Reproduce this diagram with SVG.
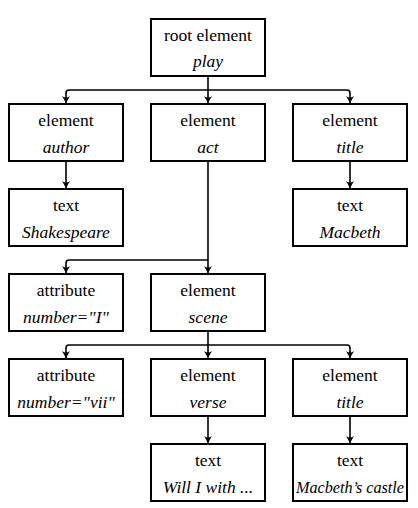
<svg xmlns="http://www.w3.org/2000/svg" width="418" height="508" viewBox="0 0 418 508">
<style>
.box{fill:#fff;stroke:#000;stroke-width:2}
.t{font-family:"Liberation Serif","DejaVu Serif",serif;font-size:17.5px;text-anchor:middle;fill:#000}
.i{font-style:italic}
.c{fill:none;stroke:#000;stroke-width:1.6;stroke-linejoin:round}
</style>
<defs>
<marker id="ah" markerWidth="10" markerHeight="10" refX="7" refY="4" orient="auto" markerUnits="userSpaceOnUse">
<path d="M0,0 Q3,4 0,8 L7,4 Z" fill="#000"/>
</marker>
</defs>
<g id="connectors">
<path class="c" d="M208,77 V90"/>
<path class="c" d="M208,90 H69 Q66,90 66,93 V103" marker-end="url(#ah)"/>
<path class="c" d="M208,90 V103" marker-end="url(#ah)"/>
<path class="c" d="M208,90 H347 Q350,90 350,93 V103" marker-end="url(#ah)"/>
<path class="c" d="M66,162 V188" marker-end="url(#ah)"/>
<path class="c" d="M350,162 V188" marker-end="url(#ah)"/>
<path class="c" d="M208,162 V260 M208,260 H69 Q66,260 66,263 V273" marker-end="url(#ah)"/>
<path class="c" d="M208,260 V273" marker-end="url(#ah)"/>
<path class="c" d="M208,332 V345"/>
<path class="c" d="M208,345 H69 Q66,345 66,348 V358" marker-end="url(#ah)"/>
<path class="c" d="M208,345 V358" marker-end="url(#ah)"/>
<path class="c" d="M208,345 H347 Q350,345 350,348 V358" marker-end="url(#ah)"/>
<path class="c" d="M208,417 V443" marker-end="url(#ah)"/>
<path class="c" d="M350,417 V443" marker-end="url(#ah)"/>
</g>
<g id="root"><rect class="box" x="151" y="19" width="114" height="57"/><text class="t" x="208" y="40.5">root element</text><text class="t i" x="208" y="67">play</text></g>
<g id="author"><rect class="box" x="9" y="104" width="114" height="57"/><text class="t" x="66" y="125.5">element</text><text class="t i" x="66" y="152.5">author</text></g>
<g id="act"><rect class="box" x="151" y="104" width="114" height="57"/><text class="t" x="208" y="125.5">element</text><text class="t i" x="208" y="152.5">act</text></g>
<g id="title1"><rect class="box" x="293" y="104" width="114" height="57"/><text class="t" x="350" y="125.5">element</text><text class="t i" x="350" y="152.5">title</text></g>
<g id="shakespeare"><rect class="box" x="9" y="189" width="114" height="57"/><text class="t" x="66" y="210.5">text</text><text class="t i" x="66" y="237.5">Shakespeare</text></g>
<g id="macbeth"><rect class="box" x="293" y="189" width="114" height="57"/><text class="t" x="350" y="210.5">text</text><text class="t i" x="350" y="237.5">Macbeth</text></g>
<g id="attr1"><rect class="box" x="9" y="274" width="114" height="57"/><text class="t" x="66" y="295.5">attribute</text><text class="t i" x="66" y="322.5">number="I"</text></g>
<g id="scene"><rect class="box" x="151" y="274" width="114" height="57"/><text class="t" x="208" y="295.5">element</text><text class="t i" x="208" y="322.5">scene</text></g>
<g id="attr2"><rect class="box" x="9" y="359" width="114" height="57"/><text class="t" x="66" y="380.5">attribute</text><text class="t i" x="66" y="407.5">number="vii"</text></g>
<g id="verse"><rect class="box" x="151" y="359" width="114" height="57"/><text class="t" x="208" y="380.5">element</text><text class="t i" x="208" y="407.5">verse</text></g>
<g id="title2"><rect class="box" x="293" y="359" width="114" height="57"/><text class="t" x="350" y="380.5">element</text><text class="t i" x="350" y="407.5">title</text></g>
<g id="text3"><rect class="box" x="151" y="444" width="114" height="57"/><text class="t" x="208" y="465.5">text</text><text class="t i" x="208" y="492.5">Will I with ...</text></g>
<g id="text4"><rect class="box" x="293" y="444" width="114" height="57"/><text class="t" x="350" y="465.5">text</text><text class="t i" x="350" y="492.5" textLength="108" lengthAdjust="spacingAndGlyphs">Macbeth’s castle</text></g>
</svg>
